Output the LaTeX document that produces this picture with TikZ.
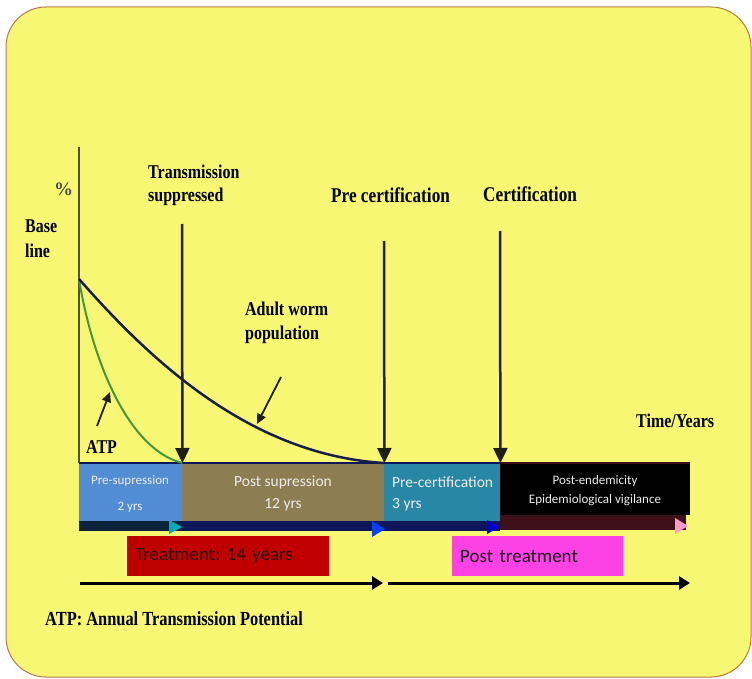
\documentclass[tikz,border=0pt]{standalone}
\usepackage{fontspec}
\usetikzlibrary{arrows.meta}
\newfontfamily\labfont[FakeStretch=0.82]{Liberation Serif}
\newfontfamily\labplain{Liberation Serif}
\newfontfamily\calib{Carlito}
\frenchspacing
\definecolor{bgyellow}{RGB}{248,247,115}
\definecolor{bgborder}{RGB}{185,120,70}
\definecolor{axiscol}{RGB}{88,80,52}
\definecolor{arrowcol}{RGB}{30,30,20}
\definecolor{curveblue}{RGB}{25,30,72}
\definecolor{curvegreen}{RGB}{70,150,60}
\definecolor{barblue}{RGB}{82,140,210}
\definecolor{barolive}{RGB}{140,126,82}
\definecolor{barteal}{RGB}{40,135,165}
\definecolor{bartxt}{RGB}{236,236,236}
\definecolor{bandnavy}{RGB}{12,22,88}
\definecolor{bandleft}{RGB}{12,34,58}
\definecolor{bandmaroon}{RGB}{62,16,26}
\definecolor{treatred}{RGB}{192,0,0}
\definecolor{postmag}{RGB}{252,66,228}
\begin{document}
\begin{tikzpicture}[x=1pt,y=-1pt,
  lbl/.style={font=\labfont\bfseries\fontsize{19.5}{23}\selectfont, inner sep=0pt, anchor=base west, text=black},
  lblbig/.style={lbl, font=\labfont\bfseries\fontsize{21}{25}\selectfont},
  bigarrow/.style={draw=arrowcol, line width=2.5pt, -{Triangle[width=14pt,length=15pt]}},
  smallarrow/.style={draw=arrowcol, line width=1.8pt, -{Triangle[width=9pt,length=10pt]}},
  longarrow/.style={draw=black, line width=3pt, -{Triangle[width=13pt,length=11pt]}},
  barbox/.style={anchor=north west, inner sep=0pt, minimum height=58pt, draw=none},
  bartext/.style={font=\calib\fontsize{13}{15}\selectfont, text=bartxt, inner sep=0pt},
  bartextbig/.style={font=\calib\fontsize{15.5}{18}\selectfont, text=bartxt, inner sep=0pt},
  boxtext/.style={font=\calib\fontsize{19}{22}\selectfont, anchor=north west, minimum height=40pt, inner ysep=0pt, inner xsep=8pt, align=left}
]
\useasboundingbox (0,0) rectangle (752,679);
\fill[white] (0,0) rectangle (752,679);
% background panel
\draw[fill=bgyellow, draw=bgborder, line width=1pt, rounded corners=40pt] (6,7) rectangle (751,677);

% bars
\node[barbox, fill=barblue,  minimum width=103pt] (bar1) at (79,463) {};
\node[barbox, fill=barolive, minimum width=202pt] (bar2) at (182,463) {};
\node[barbox, fill=barteal,  minimum width=116pt] (bar3) at (384,463) {};
\node[barbox, fill=black, minimum width=190pt, minimum height=52pt] (bar4) at (500,463) {};

% band under the bars
\fill[bandleft] (79,521) rectangle (182,531);
\fill[bandnavy] (182,521) rectangle (500,531);
\fill[bandmaroon] (500,515) rectangle (686,530);
\fill[cyan!70!green] (169,520) -- (182,527) -- (169,534) -- cycle;
\fill[blue!75!cyan] (372,521) -- (385,529) -- (372,537) -- cycle;
\fill[blue!80!black] (487,520) -- (500,527) -- (487,534) -- cycle;
\fill[pink!80!magenta] (675,518) -- (688,526) -- (675,534) -- cycle;

% top line of the bars
\draw[bandnavy, line width=2pt] (bar1.north west) -- (bar3.north east);
\draw[bandmaroon, line width=2pt] (bar4.north west) -- (bar4.north east);

% bar texts
\node[bartext] (t1a) at (130,481) {Pre-supression};
\node[bartext] (t1b) at (130,507) {2 yrs};
\node[bartextbig] (t2a) at (283,482) {Post supression};
\node[bartextbig] (t2b) at (283,505) {12 yrs};
\node[bartextbig, anchor=west] (t3a) at (392,482) {Pre-certification};
\node[bartextbig, anchor=west] (t3b) at (392,505) {3 yrs};
\node[bartext] (t4a) at (595,481) {Post-endemicity};
\node[bartext] (t4b) at (595,500) {Epidemiological vigilance};

% vertical axis
\coordinate (axtop) at (79,147);
\draw[axiscol, line width=2.5pt] (axtop) -- (bar1.north west);

% curves
\draw[curvegreen, line width=2pt] (79,279) .. controls (93,365) and (130,450) .. (bar1.north east);
\draw[curveblue, line width=2.5pt] (79,279) .. controls (150,360) and (250,455) .. (bar2.north east);

% labels
\node[lbl, font=\labplain\bfseries\fontsize{19}{22}\selectfont, text=black!70] (pct) at (54,196) {\%};
\node[lbl] (base1) at (25,233) {Base};
\node[lbl] (base2) at (25,257) {line};
\node[lbl] (ts1) at (148,179) {Transmission};
\node[lbl] (ts2) at (148,202) {suppressed};
\node[lblbig] (precert) at (331,203) {Pre certification};
\node[lblbig] (cert) at (483,201) {Certification};
\node[lbl] (aw1) at (245,315) {Adult worm};
\node[lbl] (aw2) at (245,339) {population};
\node[lbl] (time) at (636,427) {Time/Years};
\node[lbl] (atp) at (86,453) {ATP};
\node[lbl, font=\labfont\bfseries\fontsize{20}{24}\selectfont] (atpdef) at (45,625) {ATP: Annual Transmission Potential};

% vertical arrows
\coordinate (tsstart) at (182,224);
\coordinate (pcstart) at (384,241);
\coordinate (cstart) at (500,231);
\draw[bigarrow] (tsstart) -- (bar1.north east);
\draw[bigarrow] (pcstart) -- (bar2.north east);
\draw[bigarrow] (cstart) -- (bar3.north east);

% small arrows
\coordinate (atptail) at (97,426);
\coordinate (atphead) at (110,392);
\draw[smallarrow] (atptail) -- (atphead);
\coordinate (awtail) at (281,377);
\coordinate (awhead) at (257,424);
\draw[smallarrow] (awtail) -- (awhead);

% treatment boxes
\node[boxtext, fill=treatred, text width=186pt, text={rgb,255:red,45;green,8;blue,8}] (treat) at (127,536) {Treatment: 14 years};
\node[boxtext, fill=postmag, text width=155pt, text={rgb,255:red,30;green,20;blue,30}] (post) at (452,536) {Post treatment};

% long arrows
\coordinate (la1s) at (80,583);
\coordinate (la1e) at (383,583);
\coordinate (la2s) at (388,583);
\coordinate (la2e) at (690,583);
\draw[longarrow] (la1s) -- (la1e);
\draw[longarrow] (la2s) -- (la2e);
\end{tikzpicture}
\end{document}
